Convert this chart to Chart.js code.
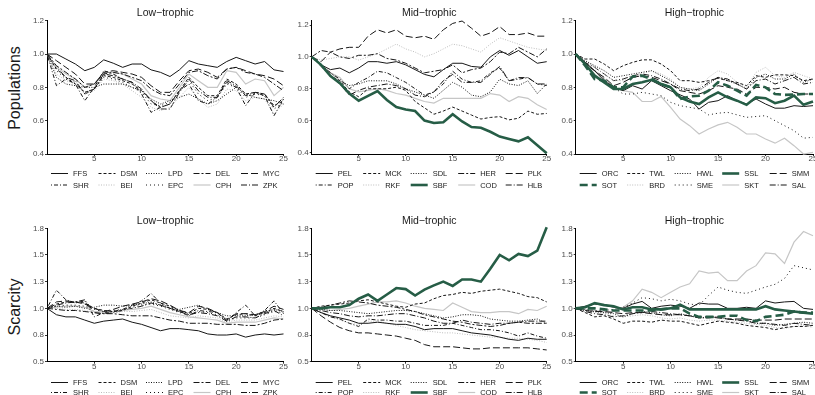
<!DOCTYPE html>
<html>
<head>
<meta charset="utf-8">
<script src="https://cdn.jsdelivr.net/npm/chart.js@4"></script>
<style>
  html, body { margin: 0; padding: 0; background: #fff; overflow: hidden; }
  #wrap { position: relative; width: 815px; height: 395px; overflow: hidden; background: #fff; }
  #wrap canvas { position: absolute; }
  .rowlab {
    position: absolute; font-family: "Liberation Sans", Arial, sans-serif; font-size: 16px;
    color: #1a1a1a; white-space: nowrap; transform: translate(-50%, -50%) rotate(-90deg);
  }
</style>
</head>
<body>
<div id="wrap"></div>
<script>
// ---- time steps and axis ticks ----
const steps = [0,1,2,3,4,5,6,7,8,9,10,11,12,13,14,15,16,17,18,19,20,21,22,23,24,25];
const xTicks = [5, 10, 15, 20, 25];
const popTicks = [0.4, 0.6, 0.8, 1.0, 1.2];
const popTickLabels = ['0.4', '0.6', '0.8', '1.0', '1.2'];
const scarTicks = [0.5, 0.75, 1.0, 1.25, 1.5, 1.75];
const scarTickLabels = ['0.5', '0.8', '1.0', '1.3', '1.5', '1.8'];

const panelTitles = ['Low\u2212trophic', 'Mid\u2212trophic', 'High\u2212trophic'];
const rowTitles = ['Populations', 'Scarcity'];

// ---- groups ----
const lowGroup  = ['FFS', 'DSM', 'LPD', 'DEL', 'MYC', 'SHR', 'BEI', 'EPC', 'CPH', 'ZPK'];
const midGroup  = ['PEL', 'MCK', 'SDL', 'HER', 'PLK', 'POP', 'RKF', 'SBF', 'COD', 'HLB'];
const highGroup = ['ORC', 'TWL', 'HWL', 'SSL', 'SMM', 'SOT', 'BRD', 'SME', 'SKT', 'SAL'];

// ---- populations, low-trophic ----
const popFFS = [1.00,1.00,0.97,0.94,0.90,0.92,0.965,0.945,0.92,0.94,0.94,0.905,0.89,0.865,0.905,0.96,0.94,0.93,0.92,0.955,0.98,0.96,0.94,0.955,0.905,0.895];
const popDSM = [1.0,0.91,0.86,0.82,0.77,0.79,0.87,0.86,0.84,0.82,0.78,0.72,0.68,0.70,0.78,0.86,0.80,0.75,0.75,0.85,0.82,0.76,0.77,0.76,0.69,0.72];
const popLPD = [1.0,0.86,0.82,0.81,0.80,0.80,0.82,0.82,0.82,0.80,0.78,0.73,0.70,0.72,0.74,0.76,0.73,0.70,0.72,0.76,0.80,0.76,0.74,0.73,0.72,0.70];
const popDEL = [1.0,0.93,0.89,0.85,0.80,0.82,0.88,0.89,0.88,0.86,0.84,0.79,0.76,0.75,0.82,0.89,0.90,0.87,0.85,0.91,0.92,0.89,0.88,0.86,0.82,0.78];
const popMYC = [1.0,0.96,0.92,0.88,0.82,0.82,0.89,0.90,0.89,0.88,0.86,0.81,0.77,0.77,0.84,0.90,0.91,0.89,0.86,0.91,0.92,0.90,0.88,0.87,0.85,0.81];
const popSHR = [1.0,0.81,0.85,0.82,0.72,0.80,0.90,0.88,0.85,0.83,0.76,0.65,0.68,0.70,0.78,0.82,0.72,0.70,0.74,0.83,0.80,0.69,0.77,0.75,0.63,0.73];
const popBEI = [1.0,0.88,0.84,0.82,0.76,0.78,0.85,0.84,0.82,0.78,0.74,0.68,0.66,0.68,0.74,0.80,0.73,0.68,0.70,0.79,0.78,0.72,0.74,0.73,0.64,0.70];
const popEPC = [1.0,0.90,0.85,0.83,0.77,0.79,0.86,0.85,0.83,0.80,0.77,0.70,0.69,0.71,0.78,0.84,0.76,0.72,0.74,0.82,0.80,0.74,0.76,0.75,0.67,0.71];
const popCPH = [1.0,0.92,0.88,0.85,0.80,0.82,0.89,0.89,0.88,0.85,0.82,0.75,0.73,0.72,0.80,0.88,0.84,0.80,0.80,0.90,0.89,0.82,0.85,0.84,0.75,0.80];
const popZPK = [1.0,0.92,0.86,0.84,0.76,0.79,0.88,0.87,0.85,0.83,0.79,0.72,0.67,0.67,0.77,0.85,0.78,0.74,0.74,0.84,0.81,0.75,0.77,0.76,0.68,0.74];

// ---- populations, mid-trophic ----
const popPEL = [1.0,0.95,0.92,0.93,0.90,0.93,0.97,0.97,0.96,0.97,0.95,0.92,0.89,0.875,0.92,0.96,0.96,0.94,0.935,1.0,1.04,1.01,1.04,1.0,0.96,0.97];
const popMCK = [1.0,0.95,0.88,0.85,0.78,0.75,0.80,0.80,0.80,0.81,0.79,0.72,0.68,0.64,0.66,0.685,0.66,0.635,0.61,0.62,0.625,0.605,0.615,0.66,0.64,0.645];
const popSDL = [1.0,0.95,0.90,0.85,0.82,0.83,0.85,0.85,0.85,0.83,0.80,0.78,0.76,0.74,0.79,0.84,0.81,0.76,0.75,0.78,0.86,0.83,0.82,0.85,0.77,0.83];
const popHER = [1.0,1.04,1.03,1.0,0.99,1.01,1.01,1.02,0.99,0.98,0.96,0.93,0.90,0.91,0.92,0.95,0.90,0.92,0.93,0.97,1.03,1.02,1.06,1.03,1.0,1.05];
const popPLK = [1.0,0.97,1.03,1.05,1.06,1.06,1.13,1.17,1.15,1.17,1.13,1.12,1.13,1.11,1.17,1.21,1.225,1.18,1.13,1.15,1.19,1.14,1.14,1.15,1.13,1.13];
const popPOP = [1.0,0.95,0.90,0.86,0.80,0.84,0.87,0.91,0.90,0.87,0.84,0.80,0.76,0.78,0.83,0.91,0.86,0.84,0.85,0.90,0.93,0.85,0.86,0.87,0.83,0.82];
const popRKF = [1.0,0.98,0.99,1.0,1.0,0.98,1.0,1.02,1.05,1.08,1.05,1.03,1.0,1.02,1.05,1.08,1.07,1.05,1.03,1.08,1.12,1.10,1.08,1.06,1.05,1.04];
const popSBF = [1.0,0.95,0.88,0.835,0.77,0.725,0.755,0.785,0.73,0.685,0.67,0.66,0.60,0.585,0.59,0.64,0.595,0.56,0.555,0.53,0.50,0.485,0.47,0.495,0.445,0.395];
const popCOD = [1.0,0.95,0.90,0.87,0.80,0.78,0.79,0.80,0.79,0.77,0.76,0.74,0.72,0.71,0.74,0.74,0.74,0.74,0.74,0.77,0.76,0.72,0.75,0.74,0.70,0.67];
const popHLB = [1.0,0.94,0.88,0.83,0.76,0.79,0.81,0.82,0.83,0.82,0.80,0.76,0.75,0.78,0.85,0.89,0.84,0.84,0.84,0.89,0.94,0.85,0.87,0.87,0.83,0.83];

// ---- populations, high-trophic ----
const popORC = [1.0,0.95,0.90,0.84,0.80,0.78,0.81,0.79,0.84,0.81,0.78,0.755,0.73,0.67,0.71,0.72,0.75,0.72,0.70,0.73,0.70,0.675,0.675,0.69,0.685,0.69];
const popTWL = [1.0,0.97,0.97,0.94,0.90,0.93,0.95,0.965,0.965,0.94,0.90,0.84,0.84,0.83,0.84,0.855,0.84,0.83,0.81,0.87,0.86,0.875,0.875,0.87,0.84,0.85];
const popHWL = [1.0,0.96,0.93,0.90,0.86,0.87,0.88,0.89,0.90,0.87,0.84,0.80,0.79,0.78,0.82,0.86,0.84,0.82,0.79,0.86,0.88,0.85,0.85,0.88,0.83,0.85];
const popSSL = [1.0,0.94,0.87,0.83,0.79,0.79,0.82,0.83,0.845,0.82,0.80,0.74,0.715,0.70,0.74,0.77,0.74,0.72,0.695,0.74,0.735,0.705,0.72,0.75,0.695,0.715];
const popSMM = [1.0,0.94,0.90,0.86,0.81,0.83,0.86,0.87,0.86,0.84,0.82,0.78,0.77,0.76,0.78,0.81,0.80,0.79,0.76,0.80,0.80,0.79,0.80,0.77,0.76,0.76];
const popSOT = [1.0,0.93,0.85,0.84,0.80,0.80,0.865,0.87,0.85,0.82,0.80,0.73,0.745,0.75,0.78,0.83,0.81,0.78,0.75,0.815,0.80,0.76,0.755,0.757,0.76,0.76];
const popBRD = [1.0,0.96,0.92,0.88,0.84,0.84,0.86,0.88,0.90,0.88,0.85,0.80,0.79,0.80,0.86,0.90,0.88,0.83,0.80,0.89,0.92,0.87,0.86,0.89,0.87,0.85];
const popSME = [1.0,0.95,0.90,0.85,0.80,0.76,0.76,0.77,0.76,0.75,0.71,0.69,0.68,0.67,0.635,0.645,0.65,0.635,0.62,0.625,0.63,0.60,0.57,0.54,0.495,0.50];
const popSKT = [1.0,0.95,0.90,0.85,0.80,0.78,0.77,0.715,0.715,0.745,0.68,0.61,0.57,0.52,0.55,0.575,0.59,0.56,0.52,0.52,0.49,0.465,0.495,0.45,0.40,0.41];
const popSAL = [1.0,0.95,0.92,0.88,0.84,0.85,0.87,0.88,0.87,0.85,0.82,0.79,0.78,0.79,0.83,0.86,0.85,0.82,0.79,0.84,0.85,0.82,0.84,0.86,0.82,0.83];

// ---- scarcity, low-trophic ----
const scarFFS = [1.0,0.94,0.92,0.92,0.89,0.86,0.88,0.89,0.90,0.87,0.85,0.82,0.79,0.81,0.81,0.80,0.79,0.76,0.75,0.75,0.76,0.73,0.75,0.76,0.75,0.76];
const scarDSM = [1.0,1.04,1.06,1.06,1.05,1.0,0.98,0.97,0.98,1.02,1.05,1.08,1.05,1.02,0.98,0.95,1.0,0.99,0.96,0.90,0.94,0.95,0.93,0.96,1.0,0.97];
const scarLPD = [1.0,1.02,1.01,1.02,1.0,1.01,1.03,1.03,1.02,1.03,1.04,1.06,1.03,1.0,0.99,1.01,1.03,0.99,0.96,0.93,0.93,0.93,0.94,0.96,0.99,0.97];
const scarDEL = [1.0,0.99,0.98,0.98,0.97,0.96,0.95,0.95,0.94,0.93,0.93,0.93,0.91,0.89,0.88,0.86,0.86,0.86,0.85,0.85,0.85,0.84,0.84,0.86,0.89,0.90];
const scarMYC = [1.0,1.06,1.07,1.06,1.04,1.0,0.97,0.99,1.02,1.04,1.06,1.09,1.07,1.03,0.98,0.96,1.02,1.0,0.96,0.89,0.95,0.95,0.94,0.97,1.02,0.99];
const scarSHR = [1.0,1.17,1.08,1.05,1.07,0.92,0.96,0.97,0.99,1.03,1.07,1.14,1.05,1.0,0.97,0.93,0.98,0.97,0.96,0.88,0.96,1.03,0.93,0.98,1.07,0.95];
const scarBEI = [1.0,1.0,0.99,0.99,0.98,0.96,0.96,0.96,0.97,0.97,0.98,0.99,0.96,0.93,0.92,0.91,0.93,0.92,0.91,0.87,0.89,0.89,0.89,0.91,0.93,0.92];
const scarEPC = [1.0,1.02,1.03,1.03,1.02,0.99,0.97,0.98,0.99,1.01,1.03,1.04,1.02,0.99,0.96,0.94,0.97,0.96,0.94,0.88,0.91,0.91,0.91,0.94,0.97,0.96];
const scarCPH = [1.0,1.01,1.02,1.02,1.01,0.97,0.97,0.97,0.98,0.99,1.0,1.02,0.99,0.96,0.94,0.92,0.91,0.90,0.89,0.86,0.87,0.87,0.87,0.89,0.91,0.90];
const scarZPK = [1.0,1.03,1.05,1.06,1.08,0.96,0.95,0.96,0.98,1.0,1.02,1.05,1.03,1.0,0.97,0.94,0.96,0.95,0.93,0.88,0.92,0.92,0.91,0.95,0.98,0.93];

// ---- scarcity, mid-trophic ----
const scarPEL = [1.0,0.96,0.93,0.91,0.89,0.86,0.86,0.87,0.86,0.85,0.85,0.83,0.80,0.81,0.81,0.81,0.79,0.77,0.76,0.75,0.73,0.71,0.70,0.72,0.71,0.71];
const scarMCK = [1.0,1.02,1.03,1.04,1.05,1.07,1.08,1.06,1.04,1.02,1.01,1.04,1.05,1.09,1.12,1.13,1.15,1.14,1.16,1.17,1.18,1.16,1.14,1.11,1.10,1.06];
const scarSDL = [1.0,0.99,0.98,0.98,0.97,0.96,0.95,0.96,0.97,0.98,0.98,0.97,0.95,0.93,0.91,0.92,0.94,0.94,0.93,0.90,0.89,0.88,0.88,0.89,0.90,0.86];
const scarHER = [1.0,1.01,1.03,1.05,1.07,1.06,1.05,1.03,1.02,1.01,0.99,0.97,0.94,0.92,0.90,0.88,0.87,0.85,0.84,0.83,0.84,0.86,0.87,0.86,0.86,0.86];
const scarPLK = [1.0,0.93,0.87,0.82,0.79,0.77,0.77,0.76,0.75,0.74,0.72,0.70,0.66,0.64,0.64,0.64,0.63,0.62,0.62,0.63,0.63,0.63,0.63,0.63,0.62,0.61];
const scarPOP = [1.0,0.96,0.92,0.90,0.86,0.83,0.90,0.89,0.89,0.88,0.88,0.86,0.84,0.84,0.84,0.86,0.84,0.82,0.80,0.80,0.79,0.77,0.74,0.77,0.74,0.72];
const scarRKF = [1.0,0.96,0.92,0.89,0.86,0.85,0.88,0.88,0.86,0.84,0.82,0.80,0.79,0.78,0.77,0.77,0.76,0.75,0.74,0.73,0.73,0.72,0.72,0.71,0.70,0.68];
const scarSBF = [1.0,1.0,1.01,1.01,1.03,1.09,1.13,1.07,1.13,1.19,1.18,1.12,1.175,1.215,1.25,1.21,1.27,1.27,1.25,1.37,1.50,1.45,1.51,1.49,1.54,1.76];
const scarCOD = [1.0,0.99,0.98,0.99,1.0,1.02,1.04,1.06,1.06,1.07,1.05,1.02,1.0,0.99,0.98,1.05,1.01,0.97,0.96,0.96,0.97,0.97,0.95,0.99,0.98,1.02];
const scarHLB = [1.0,0.98,0.96,0.95,0.93,0.92,0.93,0.93,0.94,0.95,0.95,0.93,0.91,0.88,0.86,0.86,0.89,0.87,0.86,0.85,0.86,0.86,0.87,0.88,0.88,0.88];

// ---- scarcity, high-trophic ----
const scarORC = [1.0,1.02,1.04,1.03,1.01,1.0,1.04,1.065,1.0,1.02,1.03,1.02,1.0,1.05,1.04,1.04,1.0,1.0,1.01,1.0,1.07,1.05,1.06,1.065,1.0,0.99];
const scarTWL = [1.0,0.96,0.92,0.93,0.90,0.86,0.88,0.88,0.87,0.89,0.88,0.88,0.86,0.84,0.86,0.88,0.87,0.86,0.84,0.83,0.82,0.80,0.82,0.83,0.83,0.84];
const scarHWL = [1.0,0.98,0.97,0.96,0.95,0.92,0.95,0.97,0.96,0.94,0.93,0.95,0.93,0.91,0.92,0.92,0.90,0.89,0.89,0.86,0.86,0.84,0.85,0.86,0.87,0.86];
const scarSSL = [1.0,1.01,1.05,1.03,1.02,0.99,1.01,1.01,0.99,0.99,1.0,1.035,0.99,0.99,0.99,0.99,0.99,0.99,0.99,0.99,1.02,0.99,0.98,0.97,0.96,0.95];
const scarSMM = [1.0,0.98,0.97,0.97,0.96,0.95,0.96,0.96,0.95,0.94,0.94,0.94,0.93,0.92,0.92,0.91,0.90,0.90,0.90,0.89,0.89,0.89,0.90,0.90,0.90,0.90];
const scarSOT = [1.0,1.0,1.0,0.99,0.98,0.98,0.98,0.98,0.98,0.99,1.0,1.0,0.95,0.92,0.92,0.92,0.93,0.93,0.89,0.88,0.92,0.93,0.94,0.97,0.96,0.96];
const scarBRD = [1.0,0.98,0.96,0.95,0.93,0.92,0.93,0.94,0.93,0.91,0.90,0.91,0.89,0.88,0.89,0.89,0.88,0.87,0.86,0.85,0.84,0.82,0.81,0.83,0.84,0.82];
const scarSME = [1.0,0.99,0.98,0.98,0.99,1.01,1.05,1.10,1.09,1.07,1.085,1.07,1.04,1.03,1.12,1.20,1.17,1.15,1.14,1.17,1.20,1.225,1.28,1.40,1.38,1.36];
const scarSKT = [1.0,0.99,0.98,0.97,0.97,1.01,1.07,1.18,1.15,1.10,1.15,1.20,1.23,1.35,1.33,1.34,1.26,1.26,1.35,1.40,1.52,1.51,1.42,1.62,1.72,1.68];
const scarSAL = [1.0,0.97,0.95,0.94,0.92,0.93,0.95,0.96,0.97,0.96,0.95,0.94,0.93,0.91,0.91,0.92,0.90,0.89,0.88,0.86,0.86,0.85,0.84,0.86,0.85,0.84];

const popLowSeries   = [popFFS, popDSM, popLPD, popDEL, popMYC, popSHR, popBEI, popEPC, popCPH, popZPK];
const popMidSeries   = [popPEL, popMCK, popSDL, popHER, popPLK, popPOP, popRKF, popSBF, popCOD, popHLB];
const popHighSeries  = [popORC, popTWL, popHWL, popSSL, popSMM, popSOT, popBRD, popSME, popSKT, popSAL];
const scarLowSeries  = [scarFFS, scarDSM, scarLPD, scarDEL, scarMYC, scarSHR, scarBEI, scarEPC, scarCPH, scarZPK];
const scarMidSeries  = [scarPEL, scarMCK, scarSDL, scarHER, scarPLK, scarPOP, scarRKF, scarSBF, scarCOD, scarHLB];
const scarHighSeries = [scarORC, scarTWL, scarHWL, scarSSL, scarSMM, scarSOT, scarBRD, scarSME, scarSKT, scarSAL];

// ---- line styles by legend slot ----
const BLACK = '#161616', GREY = '#c6c6c6', LIGHT = '#bdbdbd', GREEN = '#265d46';
const slotStyles = [
  { color: BLACK, width: 1,   dash: [] },
  { color: BLACK, width: 1,   dash: [3, 2] },
  { color: BLACK, width: 1,   dash: [1, 1.5] },
  { color: BLACK, width: 1,   dash: [6, 2, 2, 2] },
  { color: BLACK, width: 1,   dash: [7, 3] },
  { color: BLACK, width: 1,   dash: [1, 2, 4, 2] },
  { color: LIGHT, width: 1,   dash: [1, 1.5] },
  { color: BLACK, width: 1,   dash: [1, 3] },
  { color: GREY,  width: 1.2, dash: [] },
  { color: BLACK, width: 1,   dash: [6, 2, 1, 2] }
];
const greenSolid  = { color: GREEN, width: 2.6, dash: [], top: true };
const greenDashed = { color: GREEN, width: 2.6, dash: [8, 4], top: true };
const groupOverrides = [
  {},
  { 7: greenSolid },
  { 3: greenSolid, 5: greenDashed }
];

const FONT = '"Liberation Sans", Arial, Helvetica, sans-serif';

// Title above each panel and a 5 x 2 legend grid beneath it
const panelDecor = {
  id: 'panelDecor',
  afterDraw(chart, args, opts) {
    const ctx = chart.ctx;
    const area = chart.chartArea;
    ctx.save();
    ctx.fillStyle = '#1a1a1a';
    ctx.textBaseline = 'middle';
    ctx.textAlign = 'center';
    ctx.font = '10.5px ' + FONT;
    ctx.fillText(opts.title, (area.left + area.right) / 2, opts.titleY);
    ctx.font = '7.5px ' + FONT;
    ctx.textAlign = 'left';
    chart.data.datasets.forEach((ds, i) => {
      const col = i % 5, row = Math.floor(i / 5);
      const x0 = area.left + 4 + col * 47.5;
      const y = opts.legendY[row];
      ctx.beginPath();
      ctx.setLineDash(ds.borderDash || []);
      ctx.lineWidth = ds.borderWidth;
      ctx.strokeStyle = ds.borderColor;
      ctx.moveTo(x0, y);
      ctx.lineTo(x0 + 17, y);
      ctx.stroke();
      ctx.setLineDash([]);
      ctx.fillStyle = '#1a1a1a';
      ctx.fillText(ds.label, x0 + 22, y + 0.5);
    });
    ctx.restore();
  }
};

const wrap = document.getElementById('wrap');

// row labels
[[rowTitles[0], 88], [rowTitles[1], 307]].forEach(([txt, cy]) => {
  const d = document.createElement('div');
  d.className = 'rowlab';
  d.style.left = '15px';
  d.style.top = cy + 'px';
  d.textContent = txt;
  wrap.appendChild(d);
});

function makePanel(cfg) {
  const { L, R, T, B, cl, ct, cw, ch } = cfg;
  const canvas = document.createElement('canvas');
  canvas.width = cw; canvas.height = ch;
  canvas.style.left = cl + 'px'; canvas.style.top = ct + 'px';
  canvas.style.width = cw + 'px'; canvas.style.height = ch + 'px';
  wrap.appendChild(canvas);

  const xAxisH = 12;
  const overrides = groupOverrides[cfg.group];
  const datasets = cfg.names.map((name, i) => {
    const st = overrides[i] || slotStyles[i];
    return {
      label: name,
      data: cfg.series[i].map((v, k) => ({ x: steps[k], y: v })),
      borderColor: st.color,
      borderWidth: st.width,
      borderDash: st.dash,
      pointRadius: 0,
      tension: 0,
      fill: false,
      clip: false,
      order: st.top ? -1 : 0
    };
  });

  const tickFont = { family: FONT, size: 8 };
  new Chart(canvas, {
    type: 'line',
    data: { datasets },
    options: {
      responsive: false,
      animation: false,
      devicePixelRatio: 1,
      layout: { padding: { left: 0, top: T - ct, right: cl + cw - R, bottom: ct + ch - B - xAxisH } },
      plugins: {
        legend: { display: false },
        tooltip: { enabled: false },
        panelDecor: { title: cfg.title, titleY: cfg.titleY - ct, legendY: cfg.legendY.map(v => v - ct) }
      },
      scales: {
        x: {
          type: 'linear', min: 0, max: 25,
          afterFit(s) { s.height = xAxisH; },
          afterBuildTicks(s) { s.ticks = xTicks.map(v => ({ value: v })); },
          grid: { drawOnChartArea: false, drawTicks: true, tickLength: 2, tickColor: '#333' },
          border: { display: true, color: '#000', width: 1 },
          ticks: { font: tickFont, color: '#4d4d4d', padding: -2, maxRotation: 0, autoSkip: false,
                   callback: v => String(v) }
        },
        y: {
          type: 'linear', min: cfg.yMin, max: cfg.yMax,
          afterFit(s) { s.width = L - cl; },
          afterBuildTicks(s) { s.ticks = cfg.yTicks.map(v => ({ value: v })); },
          grid: { drawOnChartArea: false, drawTicks: true, tickLength: 2, tickColor: '#333' },
          border: { display: true, color: '#000', width: 1 },
          ticks: { font: tickFont, color: '#4d4d4d', padding: 1, autoSkip: false,
                   callback: v => {
                     const idx = cfg.yTicks.findIndex(t => Math.abs(t - v) < 1e-6);
                     return idx >= 0 ? cfg.yTickLabels[idx] : '';
                   } }
        }
      }
    },
    plugins: [panelDecor]
  });
}

const cols = [
  { L: 47,    R: 283.5, cl: 0,   cw: 292 },
  { L: 311.7, R: 546.7, cl: 268, cw: 287 },
  { L: 575.7, R: 813,   cl: 531, cw: 291 }
];
const groups = [lowGroup, midGroup, highGroup];
const popSets = [popLowSeries, popMidSeries, popHighSeries];
const scarSets = [scarLowSeries, scarMidSeries, scarHighSeries];
const popLimits = [[0.4, 1.2], [0.3906, 1.227], [0.4, 1.2]];

cols.forEach((c, i) => {
  makePanel(Object.assign({}, c, {
    T: 20.7, B: 154, ct: 0, ch: 197,
    group: i, names: groups[i], series: popSets[i], title: panelTitles[i],
    titleY: 12.7, legendY: [173.5, 185],
    yMin: popLimits[i][0], yMax: popLimits[i][1], yTicks: popTicks, yTickLabels: popTickLabels
  }));
  makePanel(Object.assign({}, c, {
    T: 228.3, B: 361.7, ct: 200, ch: 195,
    group: i, names: groups[i], series: scarSets[i], title: panelTitles[i],
    titleY: 220.7, legendY: [382.5, 392.5],
    yMin: 0.5, yMax: 1.75, yTicks: scarTicks, yTickLabels: scarTickLabels
  }));
});
</script>
</body>
</html>
